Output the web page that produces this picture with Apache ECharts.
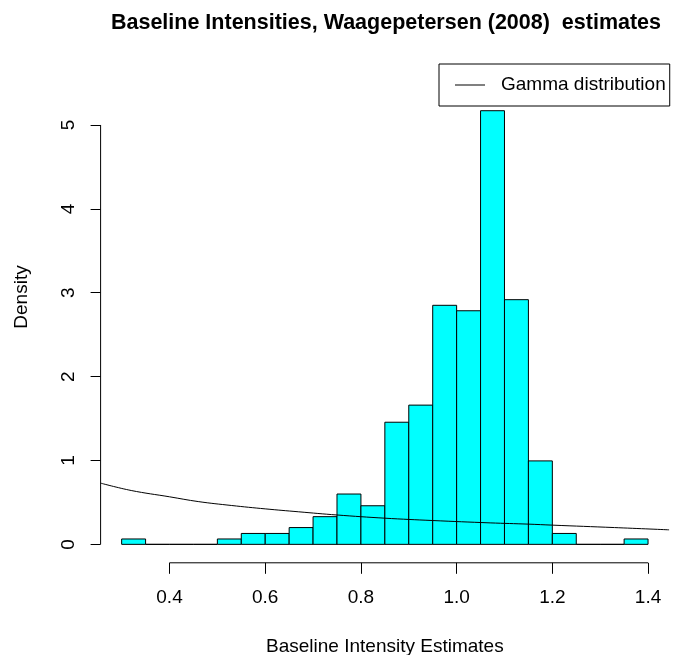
<!DOCTYPE html>
<html>
<head>
<meta charset="utf-8">
<script src="https://cdn.jsdelivr.net/npm/echarts@6/dist/echarts.min.js"></script>
<style>
html,body{margin:0;padding:0;background:#fff;}
#chart{width:674px;height:655px;}
</style>
</head>
<body>
<div id="chart"></div>
<script>
// ---- data ----
const binEdges = [0.30,0.35,0.40,0.45,0.50,0.55,0.60,0.65,0.70,0.75,0.80,0.85,0.90,0.95,1.00,1.05,1.10,1.15,1.20,1.25,1.30,1.35,1.40];
const densities = [0.064,0,0,0,0.064,0.13,0.13,0.20,0.33,0.60,0.46,1.456,1.66,2.85,2.785,5.17,2.917,0.995,0.13,0,0,0.064];
const gammaX = [0.256,0.32,0.40,0.46,0.53,0.60,0.67,0.75,0.85,0.95,1.07,1.15,1.20,1.33,1.444];
const gammaY = [0.73,0.642,0.567,0.51,0.463,0.423,0.388,0.35,0.312,0.284,0.256,0.241,0.229,0.20,0.173];
const xTicks = [0.4,0.6,0.8,1.0,1.2,1.4];
const yTicks = [0,1,2,3,4,5];
const titleText = 'Baseline Intensities, Waagepetersen (2008)  estimates';
const xName = 'Baseline Intensity Estimates';
const yName = 'Density';
const legendName = 'Gamma distribution';

// ---- layout ----
const X_MIN = 0.256, X_MAX = 1.444, Y_MIN = -0.22, Y_MAX = 5.727;
const FONT = 'Liberation Sans, Arial, Helvetica, sans-serif';
const FS = 19;

const histData = densities.map((d, i) => [binEdges[i], binEdges[i + 1], d]);
const curveData = gammaX.map((x, i) => [x, gammaY[i]]);

const chart = echarts.init(document.getElementById('chart'), null, {renderer: 'canvas'});
chart.setOption({
  animation: false,
  backgroundColor: '#ffffff',
  textStyle: {fontFamily: FONT},
  title: {
    text: titleText,
    left: 381, top: 7, textAlign: 'center',
    textStyle: {fontFamily: FONT, fontWeight: 'bold', fontSize: 21.5, color: '#000'}
  },
  legend: {
    data: [{name: legendName, icon: 'rect'}],
    left: 439, top: 64,
    padding: [11, 4, 11, 16],
    itemWidth: 30, itemHeight: 1,
    borderColor: '#000', borderWidth: 1,
    textStyle: {fontFamily: FONT, fontSize: FS, color: '#000', padding: [0, 0, 0, 11], lineHeight: 20}
  },
  graphic: [
    {
      type: 'text',
      x: 22, y: 297,
      rotation: Math.PI / 2,
      style: {text: yName, fontFamily: FONT, fontSize: FS, fill: '#000', align: 'center', verticalAlign: 'middle'}
    }
  ],
  grid: {left: 100.6, right: 4.9, top: 64, bottom: 92.2, outerBoundsMode: 'none', containLabel: false},
  xAxis: {
    type: 'value', min: X_MIN, max: X_MAX,
    name: xName, nameLocation: 'middle', nameGap: 74,
    nameTextStyle: {fontFamily: FONT, fontSize: FS, color: '#000'},
    axisLine: {show: false, onZero: false},
    axisTick: {show: true, length: 11, customValues: xTicks, lineStyle: {color: '#000'}},
    axisLabel: {customValues: xTicks, margin: 25, fontFamily: FONT, fontSize: FS, color: '#000',
      formatter: v => v.toFixed(1)},
    splitLine: {show: false}
  },
  yAxis: {
    type: 'value', min: Y_MIN, max: Y_MAX,
    axisLine: {show: false, onZero: false},
    axisTick: {show: true, length: 10, customValues: yTicks, lineStyle: {color: '#000'}},
    axisLabel: {customValues: yTicks, rotate: 90, margin: 22, fontFamily: FONT, fontSize: FS, color: '#000',
      formatter: v => String(v)},
    splitLine: {show: false}
  },
  series: [
    {
      type: 'custom',
      name: 'hist',
      data: histData,
      encode: {x: [0, 1], y: 2},
      renderItem: function (params, api) {
        const p0 = api.coord([api.value(0), api.value(2)]);
        const p1 = api.coord([api.value(1), 0]);
        return {
          type: 'rect',
          shape: {x: p0[0], y: p0[1], width: p1[0] - p0[0], height: p1[1] - p0[1]},
          style: {fill: '#00FFFF', stroke: '#000', lineWidth: 1}
        };
      },
      z: 2
    },
    {
      type: 'line',
      name: legendName,
      data: curveData,
      smooth: 0.4,
      symbol: 'none',
      lineStyle: {color: '#000', width: 1},
      itemStyle: {color: '#000'},
      z: 3
    },
    {
      type: 'custom',
      name: 'axes',
      data: [0],
      silent: true,
      clip: false,
      renderItem: function (params, api) {
        const ya = api.coord([X_MIN, yTicks[0]]);
        const yb = api.coord([X_MIN, yTicks[yTicks.length - 1]]);
        const xa = api.coord([xTicks[0], Y_MIN]);
        const xb = api.coord([xTicks[xTicks.length - 1], Y_MIN]);
        return {
          type: 'group',
          children: [
            {type: 'line', shape: {x1: ya[0], y1: ya[1], x2: yb[0], y2: yb[1]}, style: {stroke: '#000', lineWidth: 1}},
            {type: 'line', shape: {x1: xa[0], y1: xa[1], x2: xb[0], y2: xb[1]}, style: {stroke: '#000', lineWidth: 1}}
          ]
        };
      },
      z: 4
    }
  ]
});
</script>
</body>
</html>
